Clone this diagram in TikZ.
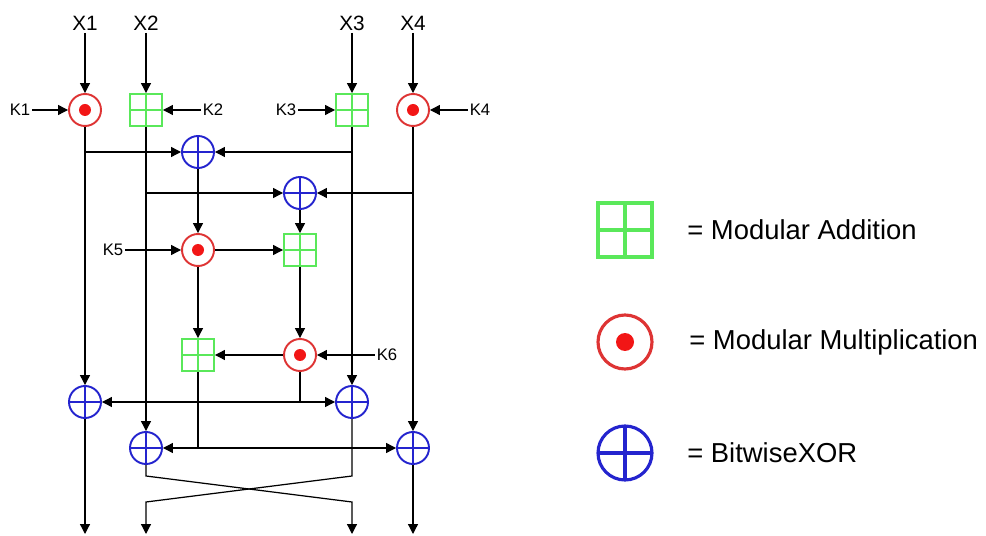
\documentclass[tikz,border=0pt]{standalone}
\usepackage{fontspec}
\setmainfont{Liberation Sans}
\usetikzlibrary{arrows.meta}

\definecolor{addgreen}{RGB}{90,232,90}
\definecolor{mulred}{RGB}{222,52,52}
\definecolor{dotred}{RGB}{242,22,22}
\definecolor{xorblue}{RGB}{36,36,206}

\tikzset{
  wire/.style={line width=0.7pt},
  arr/.style={wire,-{Triangle[length=5.6pt,width=5.6pt]}},
  inlabel/.style={font=\fontsize{11.8}{14}\selectfont,inner sep=1pt,anchor=south},
  keylabel/.style={font=\fontsize{9.5}{11}\selectfont,inner sep=1pt},
  legtext/.style={font=\fontsize{15.6}{18}\selectfont,inner sep=0pt,anchor=west},
  addbox/.style={draw=addgreen,line width=1.1pt,minimum size=0.64cm,inner sep=0pt,
    path picture={\draw[addgreen]
      (path picture bounding box.north) -- (path picture bounding box.south)
      (path picture bounding box.west) -- (path picture bounding box.east);}},
  mulnode/.style={circle,draw=mulred,line width=1.1pt,minimum size=0.64cm,inner sep=0pt,
    path picture={\fill[dotred] (path picture bounding box.center) circle[radius=#1];}},
  mulnode/.default=0.12cm,
  xornode/.style={circle,draw=xorblue,line width=1.1pt,minimum size=0.64cm,inner sep=0pt,
    path picture={\draw[xorblue]
      (path picture bounding box.north) -- (path picture bounding box.south)
      (path picture bounding box.west) -- (path picture bounding box.east);}},
  legend/.style={minimum size=1.08cm,line width=1.8pt}
}

\begin{document}
\begin{tikzpicture}[x=0.02cm,y=-0.02cm]
\useasboundingbox (0,0) rectangle (986,536);

% Inputs
\node[inlabel] (in1) at (85,33) {X1};
\node[inlabel] (in2) at (146,33) {X2};
\node[inlabel] (in3) at (352,33) {X3};
\node[inlabel] (in4) at (413,33) {X4};

% First round of key mixing
\node[mulnode] (mul1) at (85,110) {};
\node[addbox]  (add1) at (146,110) {};
\node[addbox]  (add2) at (352,110) {};
\node[mulnode] (mul2) at (413,110) {};
\node[keylabel] (k1) at (20,110) {K1};
\node[keylabel] (k2) at (213,110) {K2};
\node[keylabel] (k3) at (286,110) {K3};
\node[keylabel] (k4) at (480,110) {K4};

% Middle block
\node[xornode] (xor1) at (198,152) {};
\node[xornode] (xor2) at (300,193) {};
\node[mulnode] (mul3) at (198,250) {};
\node[addbox]  (add3) at (300,250) {};
\node[keylabel] (k5) at (113,250) {K5};
\node[addbox]  (add4) at (198,355) {};
\node[mulnode] (mul4) at (300,355) {};
\node[keylabel] (k6) at (387,355) {K6};

% Output XORs
\node[xornode] (xor3) at (85,402) {};
\node[xornode] (xor4) at (352,402) {};
\node[xornode] (xor5) at (146,448) {};
\node[xornode] (xor6) at (413,448) {};

% Branch points and outputs
\coordinate (b1) at (mul1 |- xor1);
\coordinate (b2) at (add2 |- xor1);
\coordinate (b3) at (add1 |- xor2);
\coordinate (b4) at (mul2 |- xor2);
\coordinate (t1) at (mul4 |- xor3);
\coordinate (t2) at (add4 |- xor5);
\coordinate (c1) at (146,476);
\coordinate (c2) at (352,502);
\coordinate (c3) at (352,476);
\coordinate (c4) at (146,502);
\coordinate (out1) at (85,534);
\coordinate (out2) at (146,534);
\coordinate (out3) at (352,534);
\coordinate (out4) at (413,534);

% Wires
\foreach \a/\b in {in1/mul1, in2/add1, in3/add2, in4/mul2,
                   k1/mul1, k2/add1, k3/add2, k4/mul2,
                   b1/xor1, b2/xor1, b3/xor2, b4/xor2,
                   xor1/mul3, xor2/add3, k5/mul3, mul3/add3,
                   mul3/add4, add3/mul4, k6/mul4, mul4/add4,
                   mul1/xor3, add2/xor4, add1/xor5, mul2/xor6,
                   t1/xor3, t1/xor4, t2/xor5, t2/xor6,
                   xor3/out1, xor6/out4}
  \draw[arr] (\a) -- (\b);
\draw[wire] (mul4) -- (t1);
\draw[wire] (add4) -- (t2);
\draw[arr] (xor5) -- (c1) -- (c2) -- (out3);
\draw[arr] (xor4) -- (c3) -- (c4) -- (out2);

% Legend
\node[addbox,legend]  (leg1) at (625,230) {};
\node[mulnode=0.18cm,legend] (leg2) at (625,342) {};
\node[xornode,legend] (leg3) at (625,453) {};
\node[legtext] (t1txt) at (687,230) {= Modular Addition};
\node[legtext] (t2txt) at (689,342) {= Modular Multiplication};
\node[legtext] (t3txt) at (687,453) {= BitwiseXOR};

\end{tikzpicture}
\end{document}
